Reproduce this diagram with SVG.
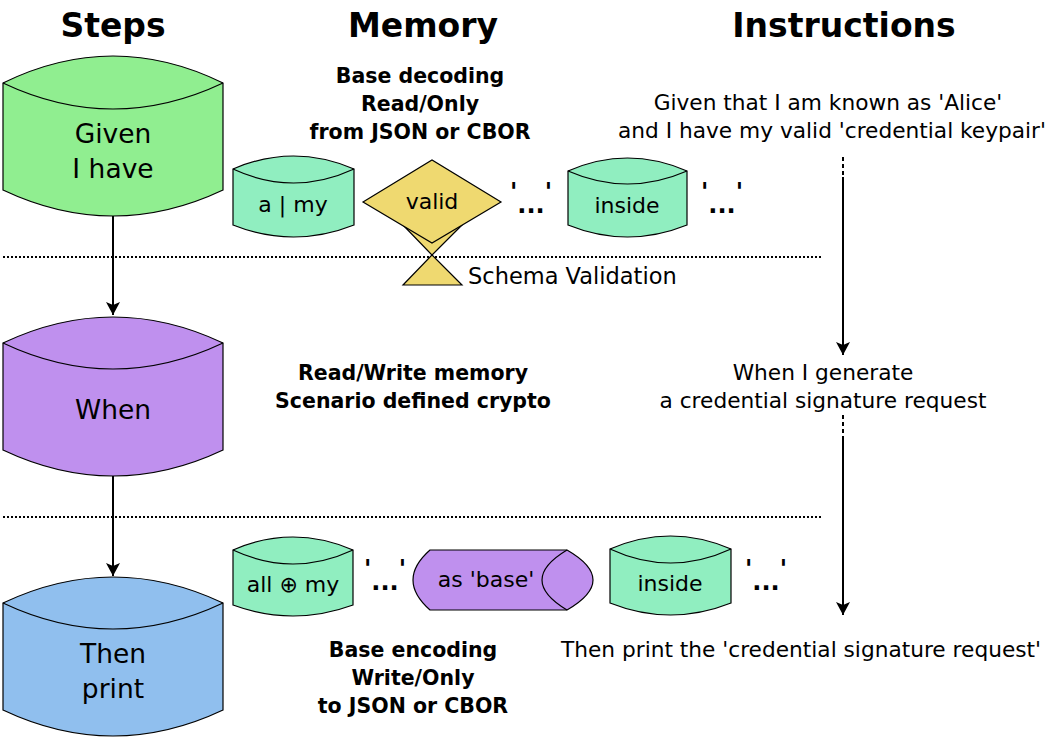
<svg xmlns="http://www.w3.org/2000/svg" width="1046" height="737" viewBox="0 0 1046 737">
<defs>
<style>
.t{font-family:"DejaVu Sans","Noto Sans",sans-serif;fill:#000;text-anchor:middle}
.h{font-size:33px;font-weight:bold}
.big{font-size:26.5px}
.sm{font-size:22px}
.b{font-size:20.5px;font-weight:bold}
.r{font-size:21.7px}
.q{font-size:24px;font-weight:bold}
.cyl{stroke:#000;stroke-width:1.2}
.green{fill:#90EE90}
.purple{fill:#BF90EE}
.blue{fill:#90BFEE}
.mint{fill:#90EEC0}
.yellow{fill:#EFD970}
.inner{fill:none;stroke:#000;stroke-width:1.2}
.sep{stroke:#000;stroke-width:2;stroke-dasharray:2 2;fill:none}
.conn{stroke:#000;stroke-width:2;fill:none}
.dash{stroke:#000;stroke-width:2;stroke-dasharray:4 3;fill:none}
</style>
<marker id="arrd" markerUnits="userSpaceOnUse" markerWidth="16" markerHeight="16" viewBox="0 0 16 16" refX="8" refY="15">
<path d="M1,2 L8,5 L15,2 L8,15 Z" fill="#000"/>
</marker>
</defs>

<g id="headings">
<text class="t h" x="113" y="37">Steps</text>
<text class="t h" x="423" y="37">Memory</text>
<text class="t h" x="844" y="37">Instructions</text>
</g>

<g id="separators">
<line class="sep" x1="3" y1="257" x2="822" y2="257"/>
<line class="sep" x1="3" y1="517" x2="822" y2="517"/>
</g>

<g id="connectors">
<line class="conn" x1="113" y1="216" x2="113" y2="315" marker-end="url(#arrd)"/>
<line class="conn" x1="113" y1="476" x2="113" y2="576" marker-end="url(#arrd)"/>
<line class="dash" x1="843" y1="157" x2="843" y2="177"/>
<line class="conn" x1="843" y1="177" x2="843" y2="355" marker-end="url(#arrd)"/>
<line class="dash" x1="843" y1="415" x2="843" y2="438"/>
<line class="conn" x1="843" y1="438" x2="843" y2="615" marker-end="url(#arrd)"/>
</g>

<g id="step-given">
<path class="cyl green" d="M3,83 Q113,29 223,83 L223,190 Q113,242 3,190 Z"/>
<path class="inner" d="M3,83 Q113,135 223,83"/>
<text class="t big" x="113" y="143">Given</text>
<text class="t big" x="113" y="178">I have</text>
</g>

<g id="step-when">
<path class="cyl purple" d="M3,343 Q113,291 223,343 L223,450 Q113,502 3,450 Z"/>
<path class="inner" d="M3,343 Q113,395 223,343"/>
<text class="t big" x="113" y="419">When</text>
</g>

<g id="step-then">
<path class="cyl blue" d="M3,603 Q113,551 223,603 L223,710 Q113,762 3,710 Z"/>
<path class="inner" d="M3,603 Q113,655 223,603"/>
<text class="t big" x="113" y="663">Then</text>
<text class="t big" x="113" y="698">print</text>
</g>

<g id="memory-given-label">
<text class="t b" x="420" y="83">Base decoding</text>
<text class="t b" x="420" y="111">Read/Only</text>
<text class="t b" x="420" y="139">from JSON or CBOR</text>
</g>

<g id="mem-a-my">
<path class="cyl mint" d="M233,169 Q293.5,143 354,169 L354,225 Q293.5,249 233,225 Z"/>
<path class="inner" d="M233,169 Q293.5,197 354,169"/>
<text class="t sm" x="293" y="212">a | my</text>
</g>

<g id="schema-validation">
<polygon class="cyl yellow" points="403,225 462,225 432,255 462,285 403,285 432,255"/>
<polygon class="cyl yellow" points="363,202 432,160 501,202 432,243"/>
<text class="t sm" x="432" y="209">valid</text>
<text class="t r" x="468" y="284" style="text-anchor:start;font-size:22.5px">Schema Validation</text>
</g>

<g id="mem-ellipsis-1">
<text class="t q" x="531" y="200">'<tspan dy="13">...</tspan><tspan dy="-13">'</tspan></text>
</g>

<g id="mem-inside-1">
<path class="cyl mint" d="M568,171 Q627.5,145 687,171 L687,225 Q627.5,249 568,225 Z"/>
<path class="inner" d="M568,171 Q627.5,197 687,171"/>
<text class="t sm" x="627" y="213">inside</text>
</g>

<g id="mem-ellipsis-2">
<text class="t q" x="722" y="200">'<tspan dy="13">...</tspan><tspan dy="-13">'</tspan></text>
</g>

<g id="instr-given">
<text class="t r" x="828" y="110">Given that I am known as 'Alice'</text>
<text class="t r" x="832" y="138">and I have my valid 'credential keypair'</text>
</g>

<g id="memory-when-label">
<text class="t b" x="413" y="380">Read/Write memory</text>
<text class="t b" x="413" y="408">Scenario defined crypto</text>
</g>

<g id="instr-when">
<text class="t r" x="823" y="380">When I generate</text>
<text class="t r" x="823" y="408">a credential signature request</text>
</g>

<g id="mem-all-my">
<path class="cyl mint" d="M233,550 Q293,524 353,550 L353,605 Q293,627 233,605 Z"/>
<path class="inner" d="M233,550 Q293,578 353,550"/>
<text class="t sm" x="293" y="592">all ⊕ my</text>
</g>

<g id="mem-ellipsis-3">
<text class="t q" x="385" y="577">'<tspan dy="13">...</tspan><tspan dy="-13">'</tspan></text>
</g>

<g id="mem-as-base">
<path class="cyl purple" d="M430,550 L567,550 Q619,580 567,610 L430,610 Q396,580 430,550 Z"/>
<path class="inner" d="M567,550 Q517,580 567,610"/>
<text class="t sm" x="486" y="587">as 'base'</text>
</g>

<g id="mem-inside-2">
<path class="cyl mint" d="M610,549 Q670.5,523 731,549 L731,603 Q670.5,627 610,603 Z"/>
<path class="inner" d="M610,549 Q670.5,577 731,549"/>
<text class="t sm" x="670" y="591">inside</text>
</g>

<g id="mem-ellipsis-4">
<text class="t q" x="766" y="577">'<tspan dy="13">...</tspan><tspan dy="-13">'</tspan></text>
</g>

<g id="memory-then-label">
<text class="t b" x="413" y="657">Base encoding</text>
<text class="t b" x="413" y="685">Write/Only</text>
<text class="t b" x="413" y="713">to JSON or CBOR</text>
</g>

<g id="instr-then">
<text class="t r" x="801" y="657">Then print the 'credential signature request'</text>
</g>
</svg>
